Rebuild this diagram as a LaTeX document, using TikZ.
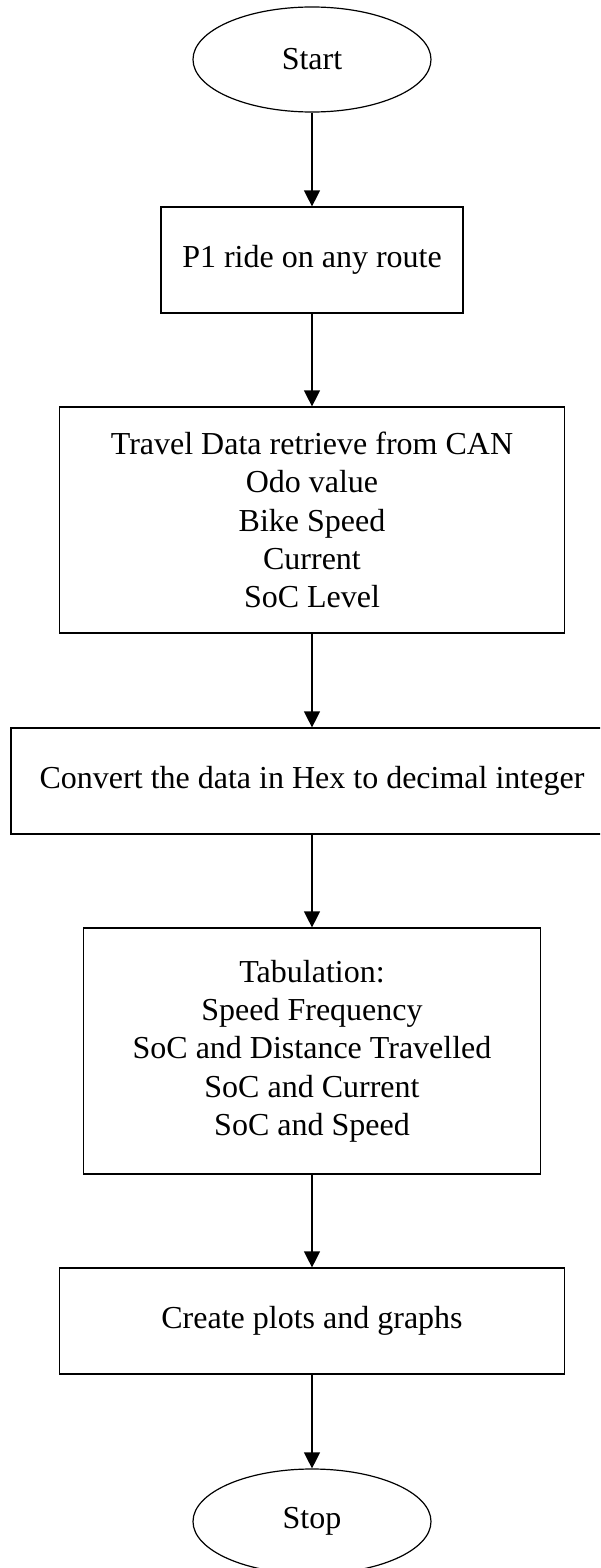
\documentclass[tikz,border=0pt]{standalone}
\usepackage{fontspec}
\setmainfont{Liberation Serif}
\usetikzlibrary{shapes.geometric,arrows.meta}

\tikzset{
  flowline/.style={line width=1.2pt, draw=black},
  terminal/.style={flowline, ellipse, inner sep=0pt, minimum width=238pt, minimum height=105pt},
  process/.style={flowline, rectangle, inner sep=0pt, align=center},
  flowarrow/.style={line width=1.2pt, -{Triangle[length=16pt,width=16pt]}},
}

\begin{document}
\begin{tikzpicture}[x=1pt, y=1pt,
  every node/.style={font=\fontsize{32}{38.3}\selectfont}]
  \clip (0,0) rectangle (600,-1568);
  \fill[white] (0,0) rectangle (600,-1568);

  % terminals and process steps, top to bottom
  \node[terminal] (start) at (312,-59.5) {Start};
  \node[process, minimum width=302pt, minimum height=106pt] (ride) at (312,-260)
    {P1 ride on any route};
  \node[process, minimum width=505pt, minimum height=226pt] (can) at (312,-520)
    {Travel Data retrieve from CAN\\Odo value\\Bike Speed\\Current\\SoC Level};
  \node[process, minimum width=602pt, minimum height=106pt] (conv) at (312,-781)
    {Convert the data in Hex to decimal integer};
  \node[process, minimum width=457pt, minimum height=246pt] (tab) at (312,-1051)
    {Tabulation:\\Speed Frequency\\SoC and Distance Travelled\\SoC and Current\\SoC and Speed};
  \node[process, minimum width=505pt, minimum height=106pt] (plots) at (312,-1321)
    {Create plots and graphs};
  \node[terminal] (stop) at (312,-1521.5) {Stop};

  % connectors
  \draw[flowarrow] (start) -- (ride);
  \draw[flowarrow] (ride) -- (can);
  \draw[flowarrow] (can) -- (conv);
  \draw[flowarrow] (conv) -- (tab);
  \draw[flowarrow] (tab) -- (plots);
  \draw[flowarrow] (plots) -- (stop);
\end{tikzpicture}
\end{document}
